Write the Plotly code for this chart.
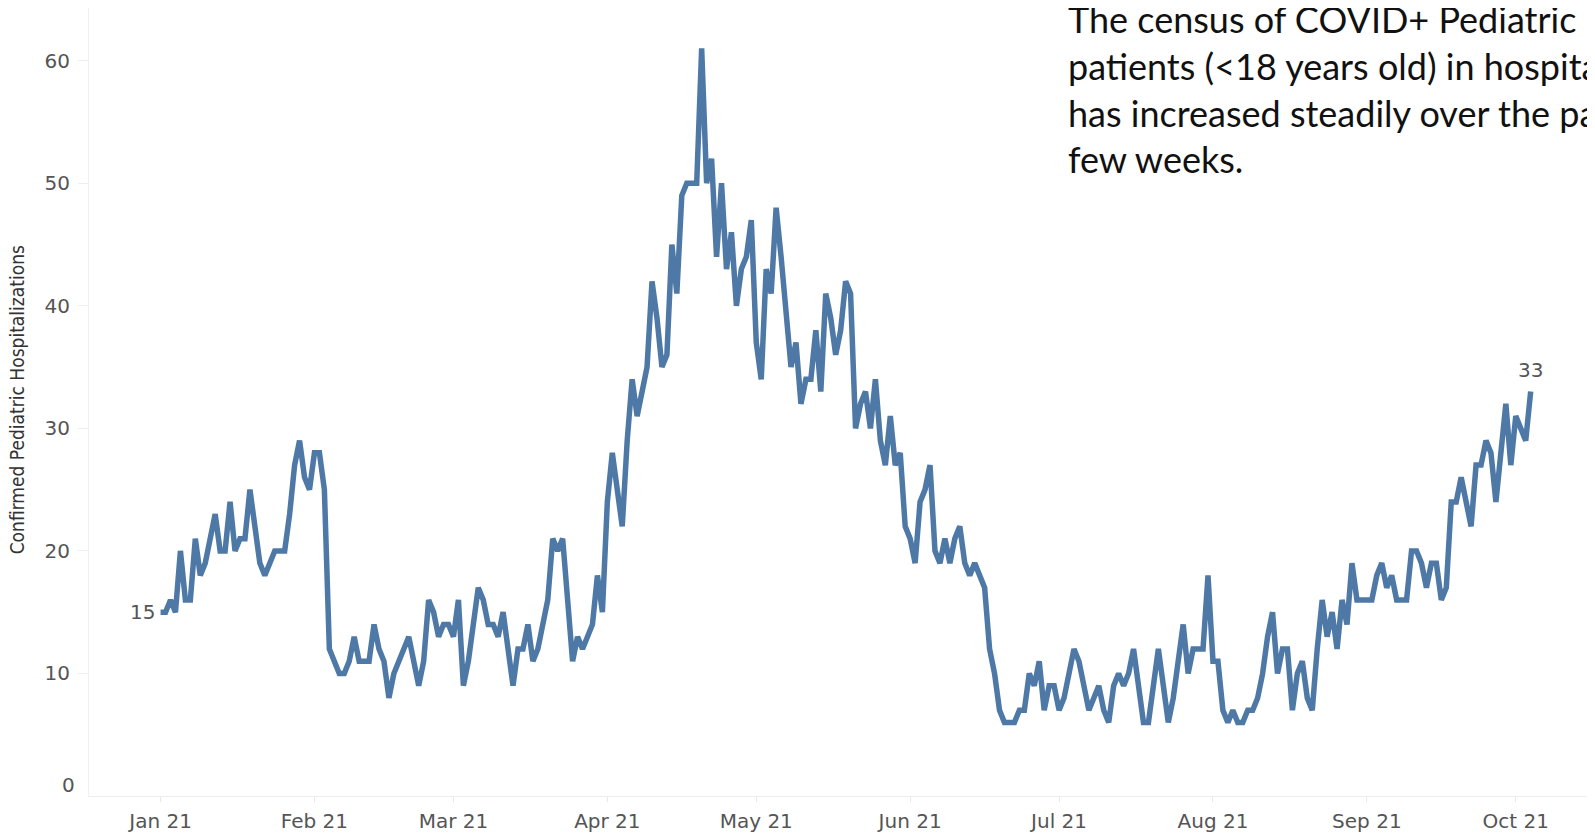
""" COVID+ pediatric hospitalizations census line chart """

import pandas as pd
from plotly import graph_objects as go

# daily census (Jan 1 2021 .. Oct 4 2021)
jan = [15, 15, 16, 15, 20, 16, 16, 21, 18, 19, 21, 23, 20, 20, 24, 20,
       21, 21, 25, 22, 19, 18, 19, 20, 20, 20, 23, 27, 29, 26, 25]
feb = [28, 28, 25, 12, 11, 10, 10, 11, 13, 11, 11, 11, 14, 12, 11, 8,
       10, 11, 12, 13, 11, 9, 11, 16, 15, 13, 14, 14]
mar = [13, 16, 9, 11, 14, 17, 16, 14, 14, 13, 15, 12, 9, 12, 12, 14,
       11, 12, 14, 16, 21, 20, 21, 16, 11, 13, 12, 13, 14, 18, 15]
apr = [24, 28, 25, 22, 29, 34, 31, 33, 35, 42, 39, 35, 36, 45, 41, 49,
       50, 50, 50, 61, 50, 52, 44, 50, 43, 46, 40, 43, 44, 47]
may = [37, 34, 43, 41, 48, 44, 40, 35, 37, 32, 34, 34, 38, 33, 41, 39,
       36, 38, 42, 41, 30, 32, 33, 30, 34, 29, 27, 31, 27, 28, 22]
jun = [21, 19, 24, 25, 27, 20, 19, 21, 19, 21, 22, 19, 18, 19, 18, 17,
       12, 10, 7, 6, 6, 6, 7, 7, 10, 9, 11, 7, 9, 9]
jul = [7, 8, 10, 12, 11, 9, 7, 8, 9, 7, 6, 9, 10, 9, 10, 12,
       9, 6, 6, 9, 12, 9, 6, 8, 11, 14, 10, 12, 12, 12, 18]
aug = [11, 11, 7, 6, 7, 6, 6, 7, 7, 8, 10, 13, 15, 10, 12, 12,
       7, 10, 11, 8, 7, 12, 16, 13, 15, 12, 16, 14, 19, 16, 16]
sep = [16, 16, 18, 19, 17, 18, 16, 16, 16, 20, 20, 19, 17, 19, 19, 16,
       17, 24, 24, 26, 24, 22, 27, 27, 29, 28, 24, 28, 32, 27]
oct_ = [31, 30, 29, 33]

values = jan + feb + mar + apr + may + jun + jul + aug + sep + oct_
dates = pd.date_range("2021-01-01", periods=len(values), freq="D")

month_ticks = pd.date_range("2021-01-01", "2021-10-01", freq="MS")
month_labels = [d.strftime("%b %y") for d in month_ticks]
y_ticks = [10, 20, 30, 40, 50, 60]

note = ("The census of COVID+ Pediatric<br>"
        "patients (&lt;18 years old) in hospitals<br>"
        "has increased steadily over the past<br>"
        "few weeks.")

BLUE = "#4e79a7"
GREY = "#555555"
TICK_FONT = dict(family="DejaVu Sans", size=20, color=GREY)

fig = go.Figure(
    go.Scatter(
        x=dates,
        y=values,
        mode="lines",
        line=dict(color=BLUE, width=5.5),
        hovertemplate="%{x|%b %d %Y}: %{y}<extra></extra>",
    )
)

# page body has an 8px default margin, so the figure is 8px smaller each way
fig.update_layout(
    width=1587,
    height=825,
    margin={"l": 81, "r": 0, "t": 0, "b": 37},
    paper_bgcolor="white",
    plot_bgcolor="white",
    showlegend=False,
)

fig.update_xaxes(
    range=["2020-12-17 14:00", "2021-10-16 23:00"],
    tickvals=month_ticks,
    ticktext=month_labels,
    tickfont=TICK_FONT,
    ticks="outside",
    ticklen=5,
    tickcolor="#e8e8e8",
    ticklabelstandoff=2,
    showgrid=False,
    zeroline=False,
    showline=True,
    linecolor="#eeeeee",
    linewidth=1,
)

fig.update_yaxes(
    range=[0, 64.3],
    tickvals=y_ticks,
    tickfont=TICK_FONT,
    ticks="outside",
    ticklen=10,
    tickcolor="#eeeeee",
    ticklabelstandoff=4,
    showgrid=False,
    zeroline=False,
    showline=True,
    linecolor="#f0f0f0",
    linewidth=1,
)

annotations = [
    # zero label sits just above the axis line, as in the original
    dict(x=0, xref="paper", xanchor="right", xshift=-12,
         y=0, yref="y", yanchor="bottom", yshift=-3,
         text="0", showarrow=False, font=TICK_FONT),
    # axis title
    dict(x=-0.0476, xref="paper", xanchor="center",
         y=0.5025, yref="paper", yanchor="middle",
         text="Confirmed Pediatric Hospitalizations", textangle=-90,
         showarrow=False,
         font=dict(family="Liberation Sans Narrow, DejaVu Sans Condensed, sans-serif",
                   size=19, color="#333333")),
    # first and last value labels
    dict(x=dates[0], y=values[0], xanchor="right", xshift=-4,
         text=str(values[0]), showarrow=False, font=TICK_FONT),
    dict(x=dates[-1], y=values[-1], yanchor="bottom", yshift=8,
         text=str(values[-1]), showarrow=False, font=TICK_FONT),
    # commentary text, runs off the right edge like the source
    dict(x=0.649, xref="paper", xanchor="left",
         y=1.016, yref="paper", yanchor="top",
         text=note, align="left", showarrow=False,
         font=dict(family="Lato", size=36, color="#111111")),
]
fig.update_layout(annotations=annotations)

fig.write_html("out.html")
